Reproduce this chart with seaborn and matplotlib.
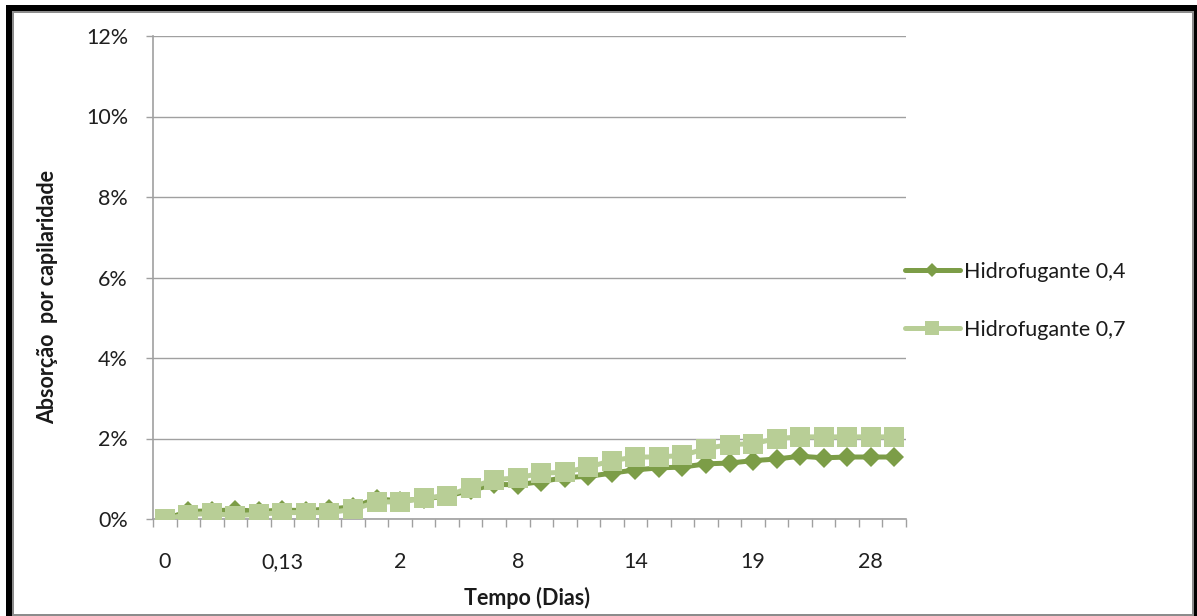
import matplotlib
matplotlib.use("Agg")
import matplotlib.pyplot as plt
from matplotlib.patches import Rectangle
from matplotlib.lines import Line2D
import numpy as np
import pandas as pd
import seaborn as sns

# Absorção por capilaridade (%) at each reading, 32 readings
hidro_04 = [0.00, 0.19, 0.20, 0.23, 0.19, 0.22, 0.21, 0.25, 0.30, 0.50, 0.45, 0.50,
            0.57, 0.71, 0.86, 0.85, 0.93, 1.03, 1.06, 1.14, 1.22, 1.27, 1.29, 1.37,
            1.39, 1.45, 1.49, 1.56, 1.52, 1.54, 1.54, 1.54]
hidro_07 = [0.00, 0.11, 0.14, 0.08, 0.12, 0.16, 0.16, 0.16, 0.24, 0.42, 0.43, 0.52,
            0.58, 0.78, 0.98, 1.02, 1.14, 1.16, 1.29, 1.45, 1.54, 1.54, 1.58, 1.75,
            1.85, 1.87, 2.00, 2.04, 2.04, 2.04, 2.04, 2.04]
tick_labels = ["0", "0,13", "2", "8", "14", "19", "28"]
tick_step = 5
series_names = ["Hidrofugante 0,4", "Hidrofugante 0,7"]

W, H = 1197, 616
sns.set_theme(style="white")
plt.rcParams["font.family"] = ["Lato", "DejaVu Sans"]

fig = plt.figure(figsize=(W / 100, H / 100), dpi=100)
ax = fig.add_axes([153 / W, 1 - 519 / H, (906 - 153) / W, (519 - 36) / H])

n = len(hidro_04)
df = pd.DataFrame({"ponto": np.arange(n), "h04": hidro_04, "h07": hidro_07})

dark = "#7C9D47"
light = "#B8CE96"

sns.lineplot(data=df, x="ponto", y="h04", ax=ax, color=dark, lw=3.6,
             marker="D", markersize=10, markeredgewidth=0, zorder=3)
sns.lineplot(data=df, x="ponto", y="h07", ax=ax, color=light, lw=3.6,
             marker="s", markersize=15, markeredgewidth=0, zorder=4)

grey = "#A0A0A0"
ax.set_xlim(-0.5, n - 0.5)
ax.set_ylim(0, 12)
ax.set_yticks(range(0, 13, 2))
ax.set_yticklabels([f"{v}%" for v in range(0, 13, 2)])
ax.yaxis.grid(True, color=grey, lw=1.0)
ax.xaxis.grid(False)
ax.set_axisbelow(True)

ax.set_xticks(range(0, n, tick_step)[:len(tick_labels)])
ax.set_xticklabels(tick_labels)
ax.set_xticks(np.arange(-0.5, n, 1.0), minor=True)
ax.tick_params(axis="x", which="major", length=0, pad=24, labelsize=15.5, colors="#1f1f1f")
ax.tick_params(axis="x", which="minor", length=6, width=1, color=grey, direction="out", bottom=True)
ax.tick_params(axis="y", which="major", length=5, width=1, color=grey, pad=13,
               labelsize=15.5, colors="#1f1f1f", left=True)

for side in ["top", "right"]:
    ax.spines[side].set_visible(False)
for side in ["left", "bottom"]:
    ax.spines[side].set_color(grey)
    ax.spines[side].set_linewidth(1.2)

ax.set_xlabel("")
ax.set_ylabel("")
fig.text(527 / W, 1 - 598 / H, "Tempo (Dias)", ha="center", va="center",
         fontsize=15.5, fontweight="bold", color="#1a1a1a")
fig.text(48 / W, 1 - 297 / H, "Absorção  por capilaridade", ha="center", va="center",
         rotation=90, fontsize=15.5, fontweight="bold", color="#1a1a1a")

handles = [
    Line2D([], [], color=dark, lw=3.6, marker="D", markersize=7, markeredgewidth=0),
    Line2D([], [], color=light, lw=3.6, marker="s", markersize=10, markeredgewidth=0),
]
fig.legend(handles, series_names, loc="upper left",
           bbox_to_anchor=(905 / W, 1 - 262 / H), frameon=False, fontsize=15.5,
           handlelength=2.55, handletextpad=0.2, borderpad=0, borderaxespad=0,
           labelspacing=1.75, labelcolor="#1a1a1a")

# Outer frame: black band with a thin grey inner edge
def band(x0, y0, x1, y1, color):
    fig.patches.append(Rectangle((x0 / W, 1 - y1 / H), (x1 - x0) / W, (y1 - y0) / H,
                                 transform=fig.transFigure, color=color, lw=0, zorder=10))

band(6, 5, W, 11, "black")
band(6, 5, 12, H, "black")
band(1194, 5, W, H, "black")
band(12, 11, 1194, 12.5, "#8c8c8c")
band(12, 11, 14, H, "#8c8c8c")
band(1192, 11, 1194, H, "#8c8c8c")
band(12, 613.5, 1194, H, "#8c8c8c")

fig.savefig("out.png", dpi=100)
